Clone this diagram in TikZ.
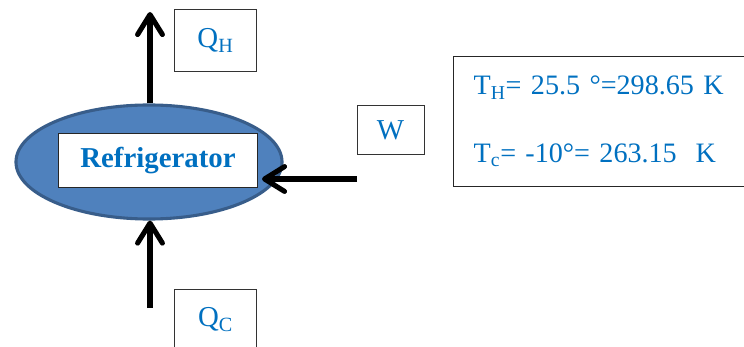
\documentclass[tikz,border=0pt]{standalone}
\usepackage{fontspec}
\setmainfont{Liberation Serif}
\usetikzlibrary{arrows.meta,positioning,shapes.geometric}
\definecolor{txtblue}{HTML}{0070C0}
\definecolor{fillblue}{HTML}{4F81BD}
\definecolor{edgeblue}{HTML}{385D8A}

\begin{document}
\begin{tikzpicture}[
    x=0.025cm,y=-0.025cm,
    machine/.style={ellipse,draw=edgeblue,fill=fillblue,line width=2.2pt,
        minimum width=6.65cm,minimum height=2.85cm,inner sep=0pt},
    core/.style={draw=black!85,fill=white,line width=0.7pt,
        minimum width=4.95cm,minimum height=1.325cm,text=txtblue,
        font=\fontsize{20.5}{24}\selectfont\bfseries},
    heatbox/.style={draw=black!80,fill=white,line width=0.7pt,
        minimum width=2.025cm,minimum height=1.525cm,text=txtblue,
        font=\fontsize{20.5}{24}\selectfont},
    state/.style={draw=black!85,line width=0.9pt,anchor=north west,
        text width=7cm,inner xsep=0.5cm,minimum height=3.25cm,align=left,
        text=txtblue,font=\fontsize{20}{24}\selectfont},
    flow/.style={line width=3.6pt,-{Straight Barb[length=5mm,width=6.2mm,round]}}]
\useasboundingbox (0,0) rectangle (744,347);
\node[machine] (eng) at (149,162) {};
\node[core] (fridge) at (158,160.5) {Refrigerator};
\node[heatbox] (qh) at (215.5,40.5) {Q\textsubscript{H}};
\node[heatbox] (qc) at (215.5,319.5) {Q\textsubscript{C}};
\node[heatbox,minimum width=1.675cm,minimum height=1.2cm] (w) at (390.5,130) {W};
\node[state] (temps) at (453,56)
    {T\textsubscript{H}= 25.5 °=298.65 K\\[24pt]
    T\textsubscript{c}= -10°= 263.15\ \ K};
\coordinate (hTip) at (150,12);
\coordinate (cTail) at (150,308);
\coordinate (wTail) at (357,179);
\coordinate (wTip) at (262,179);
\draw[flow] (eng.north -| hTip) -- (hTip);
\draw[flow] (cTail) -- (eng.south -| cTail);
\draw[flow] (wTail) -- (wTip);
\end{tikzpicture}
\end{document}
